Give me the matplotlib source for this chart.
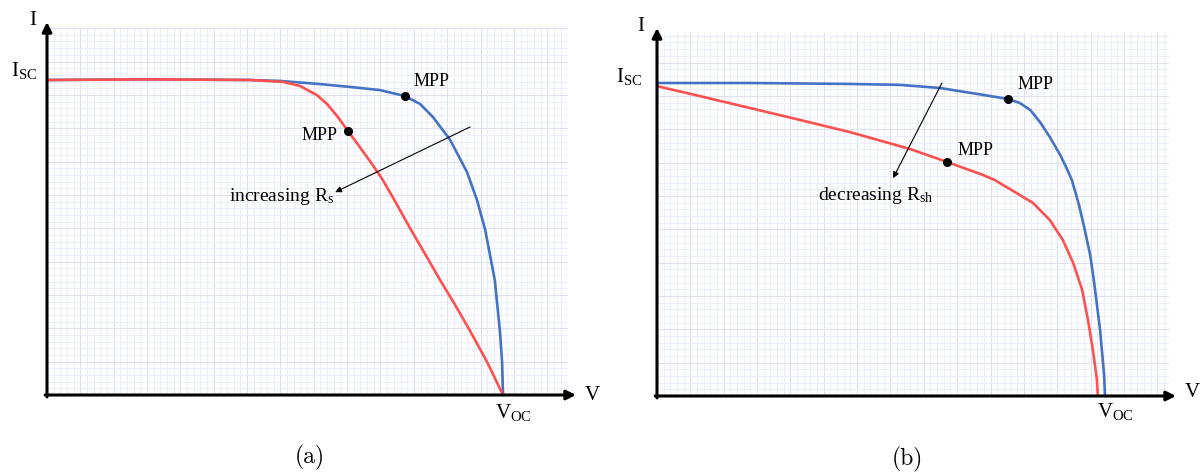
'''
I-V curves of a solar cell: effect of series and shunt resistance
'''
import numpy as np
import matplotlib.pyplot as plt

plt.rcParams['font.family']      = 'Liberation Serif'
plt.rcParams['mathtext.fontset'] = 'custom'
plt.rcParams['mathtext.rm']      = 'Liberation Serif'
plt.rcParams['mathtext.it']      = 'Liberation Serif:italic'

# --------------------------------
# (a) series resistance, V / Voc and I / Isc
rs_low_v  = [0.000, 0.226, 0.445, 0.511, 0.599, 0.664, 0.730, 0.785, 0.818, 0.846, 0.884, 0.921, 0.943, 0.961, 0.982, 0.993, 0.998, 1.000]
rs_low_i  = [1.000, 1.002, 1.000, 0.997, 0.987, 0.978, 0.968, 0.949, 0.924, 0.883, 0.810, 0.708, 0.619, 0.524, 0.365, 0.206, 0.105, 0.000]

rs_high_v = [0.000, 0.226, 0.445, 0.518, 0.555, 0.592, 0.614, 0.636, 0.660, 0.686, 0.708, 0.735, 0.763, 0.796, 0.829, 0.862, 0.895, 0.928, 0.965, 1.000]
rs_high_i = [1.000, 1.002, 1.000, 0.994, 0.981, 0.952, 0.924, 0.886, 0.838, 0.787, 0.743, 0.686, 0.616, 0.530, 0.448, 0.365, 0.286, 0.203, 0.105, 0.000]

rs_mpp_v  = [0.785, 0.660]
rs_mpp_i  = [0.949, 0.838]

# (b) shunt resistance, V / Voc and I / Isc
rsh_high_v = [0.000, 0.208, 0.431, 0.542, 0.632, 0.728, 0.783, 0.810, 0.833, 0.855, 0.877, 0.900, 0.913, 0.926, 0.942, 0.955, 0.967, 0.975, 0.989, 0.998, 1.000]
rsh_high_i = [1.000, 1.000, 0.997, 0.994, 0.984, 0.962, 0.949, 0.936, 0.914, 0.875, 0.827, 0.770, 0.732, 0.690, 0.610, 0.530, 0.450, 0.371, 0.211, 0.067, 0.000]

rsh_low_v  = [0.000, 0.096, 0.208, 0.319, 0.431, 0.565, 0.647, 0.728, 0.754, 0.788, 0.839, 0.877, 0.906, 0.929, 0.949, 0.962, 0.973, 0.982, 0.984]
rsh_low_i  = [0.990, 0.958, 0.920, 0.882, 0.843, 0.789, 0.748, 0.706, 0.690, 0.661, 0.617, 0.562, 0.498, 0.425, 0.339, 0.243, 0.147, 0.051, 0.000]

rsh_mpp_v  = [0.783, 0.647]
rsh_mpp_i  = [0.949, 0.748]

BLUE = '#4472c4'
RED  = '#ff5050'
# --------------------------------
def _make_axes(fig, x0, y0, xtip, ytip, sx, sy):
    '''
    Axes placed in pixels: origin (x0, y0), arrow tips at xtip / ytip,
    sx, sy pixels per unit
    '''
    W, H = 1201, 472
    ax = fig.add_axes([x0 / W, (H - y0) / H, (xtip - x0) / W, (y0 - ytip) / H])
    ax.set_xlim(0, (xtip - x0) / sx)
    ax.set_ylim(0, (y0 - ytip) / sy)
    ax.axis('off')

    return ax
# --------------------------------
def _draw_grid(ax, xmax, ymax, dx, dy):
    xs = np.arange(dx, xmax, dx)
    ys = np.arange(dy, ymax, dy)
    for i, x in enumerate(xs, 1):
        col = '#dde1f3' if i % 5 == 0 else '#eceef9'
        ax.plot([x, x], [0, ymax], color=col, lw=0.8, zorder=0)
    for i, y in enumerate(ys, 1):
        col = '#dde1f3' if i % 5 == 0 else '#eceef9'
        ax.plot([0, xmax], [y, y], color=col, lw=0.8, zorder=0)
# --------------------------------
def _draw_frame(ax, labels):
    xmax = ax.get_xlim()[1]
    ymax = ax.get_ylim()[1]
    arrow = dict(arrowstyle='-|>', lw=2.2, color='black', mutation_scale=14, shrinkA=0, shrinkB=0)
    ax.annotate('', xy=(xmax, 0), xytext=(-0.004, 0), arrowprops=arrow, annotation_clip=False, zorder=5)
    ax.annotate('', xy=(0, ymax), xytext=(0, -0.006), arrowprops=arrow, annotation_clip=False, zorder=5)

    for text, x, y, ha, va, size, family in labels:
        ax.text(x, y, text, ha=ha, va=va, fontsize=size, family=family, clip_on=False)
# --------------------------------
def _plot_curve(ax, vals_v, vals_i, color, zorder):
    ax.plot(vals_v, vals_i, color=color, lw=1.9, zorder=zorder,
            solid_joinstyle='round', solid_capstyle='round')
# --------------------------------
def _panel_a(fig):
    ax = _make_axes(fig, 47, 395, 576, 22, 456, 315)
    _draw_grid(ax, 520 / 456, 367 / 315, 6.67 / 456, 6.67 / 315)

    _plot_curve(ax, rs_low_v , rs_low_i , BLUE, 2)
    _plot_curve(ax, rs_high_v, rs_high_i, RED , 3)
    ax.plot(rs_mpp_v, rs_mpp_i, 'o', color='black', ms=5.5, zorder=4)

    ax.text(0.803, 0.995, 'MPP', ha='left' , va='center', fontsize=13)
    ax.text(0.638, 0.825, 'MPP', ha='right', va='center', fontsize=13)

    ax.annotate('', xy=(0.632, 0.644), xytext=(0.928, 0.851),
                arrowprops=dict(arrowstyle='-|>', lw=0.8, color='black', mutation_scale=9, shrinkA=0, shrinkB=0))
    ax.text(0.399, 0.629, r'increasing R$_{\rm s}$', ha='left', va='center', fontsize=14)

    _draw_frame(ax, [
        ('I'                  , -0.031, 1.190, 'center', 'center'  , 15, 'Liberation Serif'),
        (r'I$_{\rm SC}$'      , -0.022, 1.013, 'right' , 'baseline', 15, 'Liberation Serif'),
        ('V'                  ,  1.195, 0.000, 'center', 'center'  , 15, 'Liberation Serif'),
        (r'V$_{\rm OC}$'      ,  0.982, -0.073, 'left' , 'baseline', 15, 'Liberation Serif'),
        ('(a)'                ,  0.577, -0.197, 'center', 'center' , 17, 'cmr10'),
        ])
# --------------------------------
def _panel_b(fig):
    ax = _make_axes(fig, 657, 396, 1176, 28, 448, 313)
    _draw_grid(ax, 511 / 448, 363 / 313, 6.67 / 448, 6.67 / 313)

    _plot_curve(ax, rsh_high_v, rsh_high_i, BLUE, 2)
    _plot_curve(ax, rsh_low_v , rsh_low_i , RED , 3)
    ax.plot(rsh_mpp_v, rsh_mpp_i, 'o', color='black', ms=5.5, zorder=4)

    ax.text(0.804, 0.994, 'MPP', ha='left', va='center', fontsize=13)
    ax.text(0.670, 0.783, 'MPP', ha='left', va='center', fontsize=13)

    ax.annotate('', xy=(0.527, 0.696), xytext=(0.636, 1.000),
                arrowprops=dict(arrowstyle='-|>', lw=0.8, color='black', mutation_scale=9, shrinkA=0, shrinkB=0))
    ax.text(0.359, 0.642, r'decreasing R$_{\rm sh}$', ha='left', va='center', fontsize=14)

    _draw_frame(ax, [
        ('I'                  , -0.036, 1.179, 'center', 'center'  , 15, 'Liberation Serif'),
        (r'I$_{\rm SC}$'      , -0.033, 1.003, 'right' , 'baseline', 15, 'Liberation Serif'),
        ('V'                  ,  1.194, 0.010, 'center', 'center'  , 15, 'Liberation Serif'),
        (r'V$_{\rm OC}$'      ,  0.982, -0.067, 'left' , 'baseline', 15, 'Liberation Serif'),
        ('(b)'                ,  0.560, -0.204, 'center', 'center' , 17, 'cmr10'),
        ])
# --------------------------------
def main():
    '''
    Start here
    '''
    fig = plt.figure(figsize=(12.01, 4.72), dpi=100)

    _panel_a(fig)
    _panel_b(fig)

    fig.savefig('out.png', dpi=100)
    plt.close(fig)
# --------------------------------
if __name__ == '__main__':
    main()
